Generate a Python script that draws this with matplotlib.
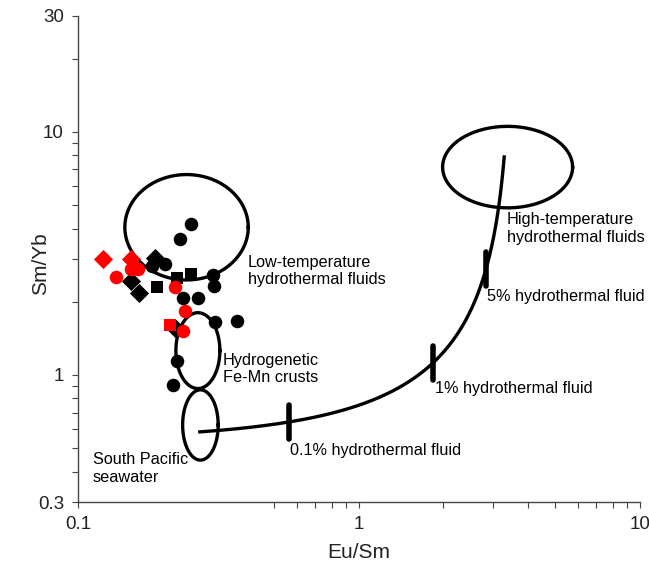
import numpy as np
import matplotlib
matplotlib.use("Agg")
import matplotlib.pyplot as plt
from matplotlib.ticker import FixedLocator, NullFormatter

plt.rcParams['font.family'] = ['Liberation Sans', 'DejaVu Sans']

# samples (Eu/Sm, Sm/Yb)
black_circle_x = [0.252, 0.231, 0.204, 0.183, 0.303, 0.305, 0.236, 0.268, 0.307, 0.367, 0.225, 0.218]
black_circle_y = [4.19, 3.63, 2.87, 2.80, 2.57, 2.32, 2.08, 2.07, 1.65, 1.66, 1.14, 0.907]
black_square_x = [0.2245, 0.2524, 0.1905]
black_square_y = [2.51, 2.59, 2.30]
black_diamond_x = [0.188, 0.154, 0.165, 0.2233]
black_diamond_y = [3.03, 2.44, 2.17, 1.54]

red_circle_x = [0.137, 0.155, 0.164, 0.222, 0.240, 0.236]
red_circle_y = [2.54, 2.72, 2.74, 2.29, 1.83, 1.52]
red_square_x = [0.213]
red_square_y = [1.61]
red_diamond_x = [0.123, 0.154]
red_diamond_y = [3.00, 3.00]

# two end-member mixing: seawater and high-T fluid (Sm normalised to seawater = 1)
sw_eu_sm, sw_sm_yb = 0.2717, 0.583
hf_eu_sm, hf_sm_yb = 3.289, 7.88
hf_sm_enrich = 106.9
mark_frac = [0.001, 0.01, 0.05]
mark_labels = ["0.1% hydrothermal fluid", "1% hydrothermal fluid", "5% hydrothermal fluid"]
mark_label_x = [0.568, 1.864, 2.855]
mark_label_y = [0.49, 0.882, 2.10]

# fields: centre (x, y), half-axes in decades (x, y)
field_cx = [0.2436, 0.2673, 0.2729, 3.382]
field_cy = [4.05, 1.259, 0.6226, 7.16]
field_wx = [0.2196, 0.0783, 0.0633, 0.2313]
field_wy = [0.2168, 0.156, 0.1446, 0.1676]
field_labels = ["Low-temperature\nhydrothermal fluids", "Hydrogenetic\nFe-Mn crusts",
                "South Pacific\nseawater", "High-temperature\nhydrothermal fluids"]
field_label_x = [0.4027, 0.328, 0.1131, 3.363]
field_label_y = [2.68, 1.055, 0.412, 4.0]


def mix(f):
    f = np.asarray(f, dtype=float)
    sm = f * hf_sm_enrich + (1 - f) * 1.0
    eu = f * hf_sm_enrich * hf_eu_sm + (1 - f) * sw_eu_sm
    yb = f * hf_sm_enrich / hf_sm_yb + (1 - f) / sw_sm_yb
    return eu / sm, sm / yb


fig = plt.figure(figsize=(6.49, 5.66), dpi=100)
ax = fig.add_axes([0.120, 0.113, 0.866, 0.859])
ax.set_xscale('log')
ax.set_yscale('log')
ax.set_xlim(0.1, 10)
ax.set_ylim(0.3, 30)

t = np.linspace(0, 2 * np.pi, 200)
for cx, cy, wx, wy in zip(field_cx, field_cy, field_wx, field_wy):
    ex = 10 ** (np.log10(cx) + wx * np.cos(t))
    ey = 10 ** (np.log10(cy) + wy * np.sin(t))
    ax.plot(ex, ey, color='black', lw=2.4, zorder=2)

frac = np.concatenate([[0], np.geomspace(1e-5, 1, 400)])
mx_line, my_line = mix(frac)
ax.plot(mx_line, my_line, color='black', lw=2.4, zorder=2)

half = 10 ** (17 / 243.5)
mark_x, mark_y = mix(mark_frac)
for mx, my in zip(mark_x, mark_y):
    ax.plot([mx, mx], [my / half, my * half], color='black', lw=4, solid_capstyle='round', zorder=2)

ms = 95
ax.scatter(black_circle_x, black_circle_y, s=ms, marker='o', color='black', zorder=3, lw=0)
ax.scatter(black_square_x, black_square_y, s=75, marker='s', color='black', zorder=3, lw=0)
ax.scatter(black_diamond_x, black_diamond_y, s=95, marker='D', color='black', zorder=3, lw=0)
ax.scatter(red_circle_x, red_circle_y, s=ms, marker='o', color='#ff0000', zorder=4, lw=0)
ax.scatter(red_square_x, red_square_y, s=75, marker='s', color='#ff0000', zorder=4, lw=0)
ax.scatter(red_diamond_x, red_diamond_y, s=95, marker='D', color='#ff0000', zorder=4, lw=0)

for lab, lx, ly in zip(field_labels, field_label_x, field_label_y):
    ax.text(lx, ly, lab, fontsize=11.7, va='center', ha='left', linespacing=1.2, zorder=5)
for lab, lx, ly in zip(mark_labels, mark_label_x, mark_label_y):
    ax.text(lx, ly, lab, fontsize=11.7, va='center', ha='left', zorder=5)

ax.spines['top'].set_visible(False)
ax.spines['right'].set_visible(False)
for s in ['left', 'bottom']:
    ax.spines[s].set_color('#444444')
    ax.spines[s].set_linewidth(1.0)

ax.xaxis.set_major_locator(FixedLocator([0.1, 1, 10]))
ax.xaxis.set_minor_locator(FixedLocator([0.5, 0.6, 0.7, 0.8, 0.9, 2, 3, 4, 5, 6, 7, 8, 9]))
ax.yaxis.set_major_locator(FixedLocator([0.3, 1, 10, 30]))
ax.yaxis.set_minor_locator(FixedLocator([0.4, 0.5, 0.6, 0.7, 0.8, 0.9, 2, 3, 4, 5, 6, 7, 8, 9, 20]))
ax.xaxis.set_minor_formatter(NullFormatter())
ax.yaxis.set_minor_formatter(NullFormatter())
ax.set_xticklabels(['0.1', '1', '10'])
ax.set_yticklabels(['0.3', '1', '10', '30'])
ax.tick_params(which='both', direction='out', length=4, width=0.8, color='#444444',
               labelsize=13.5, labelcolor='#222222', pad=6)

ax.set_xlabel('Eu/Sm', fontsize=15, color='#222222', labelpad=7)
ax.set_ylabel('Sm/Yb', fontsize=15, color='#222222')
ax.yaxis.set_label_coords(-0.05, 0.49)

fig.savefig('out.png', dpi=100)
